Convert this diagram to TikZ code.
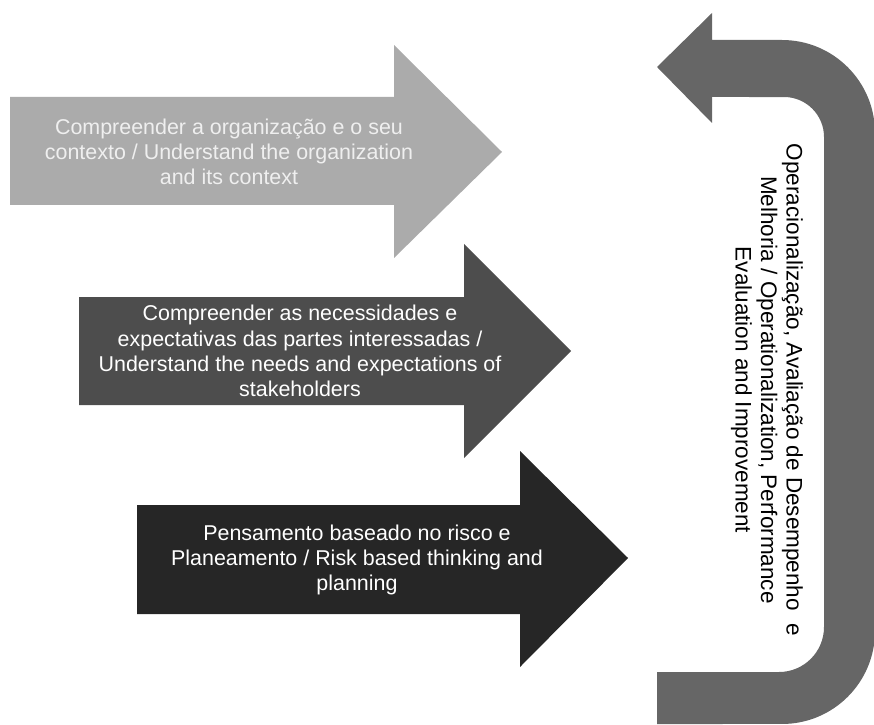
\documentclass[tikz,border=0pt]{standalone}
\usepackage{fontspec}
\setmainfont{Liberation Sans}
\definecolor{lightarrow}{HTML}{ABABAB}
\definecolor{midarrow}{HTML}{4D4D4D}
\definecolor{darkarrow}{HTML}{262626}
\definecolor{turnarrow}{HTML}{666666}
\definecolor{palelabel}{HTML}{EFEFEF}
\begin{document}
\begin{tikzpicture}[x=0.02cm, y=0.02cm,
  arrowlabel/.style={align=center, inner sep=0pt, font=\fontsize{12.2}{14.3}\selectfont}]
\useasboundingbox (0, 0) rectangle (874, 724);
\clip (0, 0) rectangle (874, 724);
% block arrows
\fill[lightarrow] (10, 627) -- (394, 627) -- (394, 679) -- (502, 572) -- (394, 466) -- (394, 519) -- (10, 519) -- cycle;
\fill[midarrow] (79, 427) -- (464, 427) -- (464, 480) -- (571, 373) -- (464, 266) -- (464, 319) -- (79, 319) -- cycle;
\fill[darkarrow] (137, 219) -- (520, 219) -- (520, 273) -- (628, 166) -- (520, 57) -- (520, 110) -- (137, 110) -- cycle;
% u-turn arrow
\fill[turnarrow] (657, 657) -- (712, 711) -- (712, 684) -- (782, 684) arc[start angle=90, end angle=0, radius=1.86cm]
  -- (875, 93) arc[start angle=0, end angle=-90, radius=1.86cm] -- (657, 0) -- (657, 52) -- (779, 52)
  arc[start angle=-90, end angle=0, radius=0.9cm] -- (824, 587) arc[start angle=0, end angle=90, radius=0.8cm]
  -- (712, 627) -- (712, 601) -- cycle;
% labels
\node[arrowlabel, text=palelabel] (context) at (229, 572) {Compreender a organização e o seu\\contexto / Understand the organization\\and its context};
\node[arrowlabel, text=white] (parties) at (300, 373) {Compreender as necessidades e\\expectativas das partes interessadas /\\Understand the needs and expectations of\\stakeholders};
\node[arrowlabel, text=white] (risk) at (357, 164) {Pensamento baseado no risco e\\Planeamento / Risk based thinking and\\planning};
\node[arrowlabel, font=\fontsize{12.8}{14.5}\selectfont, rotate=-90] (improve) at (767, 334) {Operacionalização, Avaliação de Desempenho \ e\\Melhoria / Operationalization, Performance\\Evaluation and Improvement};
\end{tikzpicture}
\end{document}
